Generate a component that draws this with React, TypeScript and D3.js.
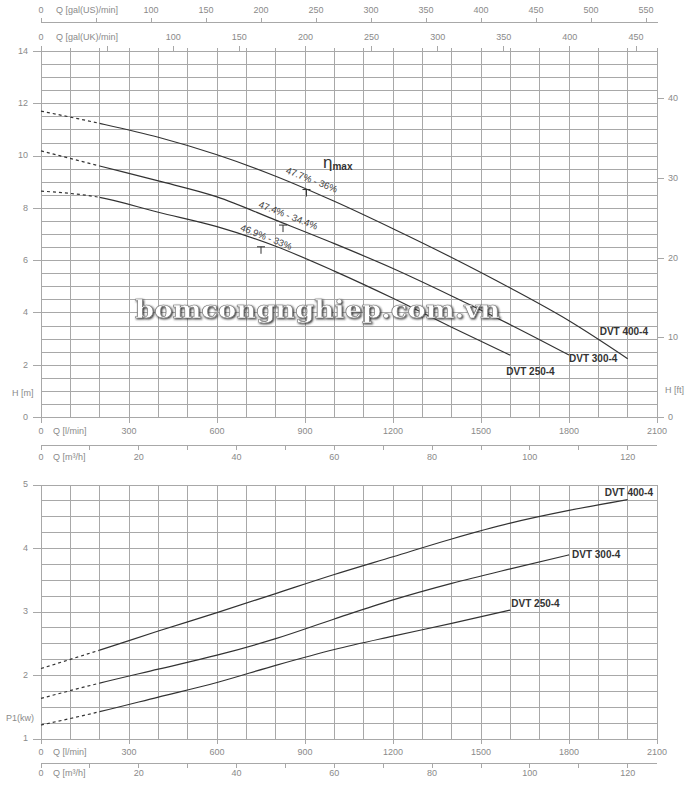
import React, { useEffect, useRef } from 'react'
import * as d3 from 'd3'

// flow points in l/min
const flow400 = [0, 200, 400, 600, 800, 1000, 1200, 1400, 1600, 1800, 2000]
const flow300 = [0, 200, 400, 600, 800, 1000, 1200, 1400, 1600, 1800]
const flow250 = [0, 200, 400, 600, 800, 1000, 1200, 1400, 1600]

// head H [m]
const head400 = [11.72, 11.25, 10.72, 10.05, 9.23, 8.27, 7.22, 6.12, 4.95, 3.7, 2.25]
const head300 = [10.2, 9.62, 9.05, 8.44, 7.55, 6.65, 5.7, 4.65, 3.55, 2.39]
const head250 = [8.66, 8.42, 7.85, 7.3, 6.55, 5.6, 4.56, 3.45, 2.38]

// power P1 [kW]
const power400 = [2.11, 2.4, 2.7, 2.99, 3.29, 3.59, 3.87, 4.15, 4.4, 4.6, 4.77]
const power300 = [1.64, 1.88, 2.1, 2.32, 2.58, 2.89, 3.19, 3.45, 3.68, 3.9]
const power250 = [1.22, 1.43, 1.66, 1.89, 2.16, 2.41, 2.62, 2.82, 3.03]

const models = ['DVT 400-4', 'DVT 300-4', 'DVT 250-4']

// best efficiency marks
const etaLabels = ['47.7% - 36%', '47.4% - 34.4%', '46.9% - 33%']
const etaFlow = [905, 825, 750]
const etaHead = [8.72, 7.36, 6.53]

// tick labels
const lpmTicks = [300, 600, 900, 1200, 1500, 1800, 2100]
const m3hTicks = [20, 40, 60, 80, 100, 120]
const galUSTicks = [100, 150, 200, 250, 300, 350, 400, 450, 500, 550]
const galUKTicks = [100, 150, 200, 250, 300, 350, 400, 450]
const headTicks = [0, 2, 4, 6, 8, 10, 12, 14]
const ftTicks = [0, 10, 20, 30, 40]
const powerTicks = [1, 2, 3, 4, 5]

const App = () => {
  const svgRef = useRef<SVGSVGElement>(null)

  useEffect(() => {
    const svg = d3.select(svgRef.current)
    svg.selectAll('*').remove()

    const font = 'Liberation Sans, Arial, sans-serif'
    const gridColor = '#a8a8a8'
    const axisText = '#8a8a8a'
    const curveColor = '#333'

    const x = d3.scaleLinear().domain([0, 2100]).range([41, 657])
    const yH = d3.scaleLinear().domain([0, 14]).range([417.5, 51.5])
    const yP = d3.scaleLinear().domain([1, 5]).range([739, 485])
    const usScale = d3.scaleLinear().domain([0, 550]).range([41, 646])
    const ukScale = d3.scaleLinear().domain([0, 450]).range([41, 636])
    const m3h = (v: number) => x((v * 1000) / 60)

    svg.append('rect').attr('width', 700).attr('height', 788).attr('fill', '#fff')

    // dashed part is the first 200 l/min of each curve
    const defs = svg.append('defs')
    defs.append('clipPath').attr('id', 'dashPart')
      .append('rect').attr('x', 0).attr('y', 0).attr('width', x(200)).attr('height', 788)
    defs.append('clipPath').attr('id', 'solidPart')
      .append('rect').attr('x', x(200)).attr('y', 0).attr('width', 700).attr('height', 788)

    const label = (tx: number, ty: number, txt: string, anchor = 'middle', size = 9, color = axisText) =>
      svg
        .append('text')
        .attr('x', tx)
        .attr('y', ty)
        .attr('text-anchor', anchor)
        .attr('dominant-baseline', 'middle')
        .attr('font-family', font)
        .attr('font-size', size)
        .attr('fill', color)
        .text(txt)

    const drawGrid = (yScale: any, step: number, yMin: number, yMax: number, topExt: number) => {
      const g = svg
        .append('g')
        .attr('stroke', gridColor)
        .attr('stroke-width', 1)
        .attr('shape-rendering', 'crispEdges')
      d3.range(yMin, yMax + 1e-9, step).forEach((v) => {
        g.append('line')
          .attr('x1', x(0))
          .attr('x2', x(2100))
          .attr('y1', yScale(v))
          .attr('y2', yScale(v))
      })
      d3.range(0, 2101, 100).forEach((q) => {
        g.append('line')
          .attr('x1', x(q))
          .attr('x2', x(q))
          .attr('y1', yScale(yMax) - topExt)
          .attr('y2', yScale(yMin) + (q % 300 === 0 ? 5 : 0))
      })
    }

    // flow axes below each chart
    const drawFlowAxes = (lpmY: number, lineY: number, m3Y: number) => {
      label(x(0), lpmY, '0')
      label(x(0) + 12, lpmY, 'Q [l/min]', 'start')
      lpmTicks.forEach((q) => label(x(q), lpmY, String(q)))
      const g = svg.append('g').attr('stroke', gridColor).attr('shape-rendering', 'crispEdges')
      g.append('line').attr('x1', x(0)).attr('x2', x(2100)).attr('y1', lineY).attr('y2', lineY)
      d3.range(0, 121, 10).forEach((v) => {
        g.append('line').attr('x1', m3h(v)).attr('x2', m3h(v)).attr('y1', lineY).attr('y2', lineY + 5)
      })
      label(x(0), m3Y, '0')
      label(x(0) + 12, m3Y, 'Q [m³/h]', 'start')
      m3hTicks.forEach((v) => label(m3h(v), m3Y, String(v)))
    }

    // ---------- head chart ----------
    drawGrid(yH, 0.5, 0, 14, 4)

    // gallon axes on top
    const ga = svg.append('g').attr('stroke', gridColor).attr('shape-rendering', 'crispEdges')
    ga.append('line').attr('x1', usScale(0)).attr('x2', 658).attr('y1', 22).attr('y2', 22)
    d3.range(0, 551, 50).forEach((v) => {
      ga.append('line').attr('x1', usScale(v)).attr('x2', usScale(v)).attr('y1', 18).attr('y2', 22)
    })
    d3.range(0, 451, 50).forEach((v) => {
      ga.append('line').attr('x1', ukScale(v)).attr('x2', ukScale(v)).attr('y1', 46).attr('y2', 51)
    })
    label(usScale(0), 11, '0')
    label(usScale(0) + 15, 11, 'Q [gal(US)/min]', 'start')
    galUSTicks.forEach((v) => label(usScale(v), 11, String(v)))
    label(ukScale(0), 38, '0')
    label(ukScale(0) + 15, 38, 'Q [gal(UK)/min]', 'start')
    galUKTicks.forEach((v) => label(ukScale(v), 38, String(v)))

    // left axis H [m]
    headTicks.forEach((v) => {
      svg.append('line').attr('x1', 33).attr('x2', 41).attr('y1', yH(v)).attr('y2', yH(v))
        .attr('stroke', gridColor).attr('shape-rendering', 'crispEdges')
      label(28, yH(v), String(v), 'end')
    })
    label(12, 394, 'H [m]', 'start')

    // right axis H [ft]
    ftTicks.forEach((v) => {
      const yy = yH(v * 0.3048)
      svg.append('line').attr('x1', 657).attr('x2', 664).attr('y1', yy).attr('y2', yy)
        .attr('stroke', gridColor).attr('shape-rendering', 'crispEdges')
      label(668, yy, String(v), 'start')
    })
    label(665, 391, 'H [ft]', 'start')

    drawFlowAxes(432, 445, 458)

    const flows = [flow400, flow300, flow250]
    const heads = [head400, head300, head250]
    const powers = [power400, power300, power250]

    const drawCurves = (values: number[][], yScale: any, offsets: number[][]) => {
      values.forEach((vals, i) => {
        const pts = flows[i].map((q, j) => ({ q, v: vals[j] }))
        const line = d3
          .line<{ q: number; v: number }>()
          .x((d) => x(d.q))
          .y((d) => yScale(d.v))
          .curve(d3.curveMonotoneX)
        svg.append('path')
          .attr('d', line(pts))
          .attr('fill', 'none')
          .attr('stroke', curveColor)
          .attr('stroke-width', 1.2)
          .attr('stroke-dasharray', '3,3')
          .attr('clip-path', 'url(#dashPart)')
        svg.append('path')
          .attr('d', line(pts))
          .attr('fill', 'none')
          .attr('stroke', curveColor)
          .attr('stroke-width', 1.2)
          .attr('clip-path', 'url(#solidPart)')
        const last = pts[pts.length - 1]
        label(x(last.q) + offsets[i][0], yScale(last.v) + offsets[i][1], models[i], 'start', 10, curveColor)
          .attr('font-weight', 'bold')
      })
    }

    drawCurves(heads, yH, [[-28, -26], [0, 4], [-4, 17]])

    // efficiency marks
    etaLabels.forEach((t, i) => {
      const mx = x(etaFlow[i])
      const my = yH(etaHead[i])
      svg.append('path')
        .attr('d', `M${mx - 4},${my}H${mx + 4}M${mx},${my}V${my + 7}`)
        .attr('stroke', curveColor)
        .attr('stroke-width', 1)
        .attr('fill', 'none')
      svg.append('text')
        .attr('transform', `translate(${mx + 5},${my - 9}) rotate(21.5)`)
        .attr('text-anchor', 'middle')
        .attr('dominant-baseline', 'middle')
        .attr('font-family', font)
        .attr('font-size', 9.5)
        .attr('fill', '#444')
        .text(t)
    })
    const eta = svg.append('text')
      .attr('x', 323)
      .attr('y', 168)
      .attr('font-family', font)
      .attr('fill', curveColor)
    eta.append('tspan').attr('font-size', 17).text('η')
    eta.append('tspan').attr('font-size', 10).attr('font-weight', 'bold').attr('dy', 2).text('max')

    // ---------- power chart ----------
    drawGrid(yP, 0.25, 1, 5, 0)
    powerTicks.forEach((v) => {
      svg.append('line').attr('x1', 33).attr('x2', 41).attr('y1', yP(v)).attr('y2', yP(v))
        .attr('stroke', gridColor).attr('shape-rendering', 'crispEdges')
      label(28, yP(v), String(v), 'end')
    })
    label(6, 719, 'P1(kw)', 'start')
    drawFlowAxes(753, 763, 774)

    drawCurves(powers, yP, [[-23, -6], [3, 1], [1, -6]])

    // watermark
    const f = defs.append('filter').attr('id', 'wm').attr('x', '-5%').attr('y', '-20%').attr('width', '110%').attr('height', '140%')
    f.append('feDropShadow').attr('dx', 1).attr('dy', 1).attr('stdDeviation', 0.8).attr('flood-color', '#222')
    svg.append('text')
      .attr('x', 135)
      .attr('y', 318)
      .attr('font-family', 'DejaVu Serif, Liberation Serif, serif')
      .attr('font-weight', 'bold')
      .attr('font-size', 24)
      .attr('textLength', 365)
      .attr('lengthAdjust', 'spacingAndGlyphs')
      .attr('fill', '#fff')
      .attr('stroke', '#777')
      .attr('stroke-width', 0.6)
      .attr('filter', 'url(#wm)')
      .text('bomcongnghiep.com.vn')
  }, [])

  return (
    <svg
      ref={svgRef}
      width={700}
      height={788}
      style={{ position: 'absolute', left: 0, top: 0, background: '#fff' }}
    ></svg>
  )
}

export default App
